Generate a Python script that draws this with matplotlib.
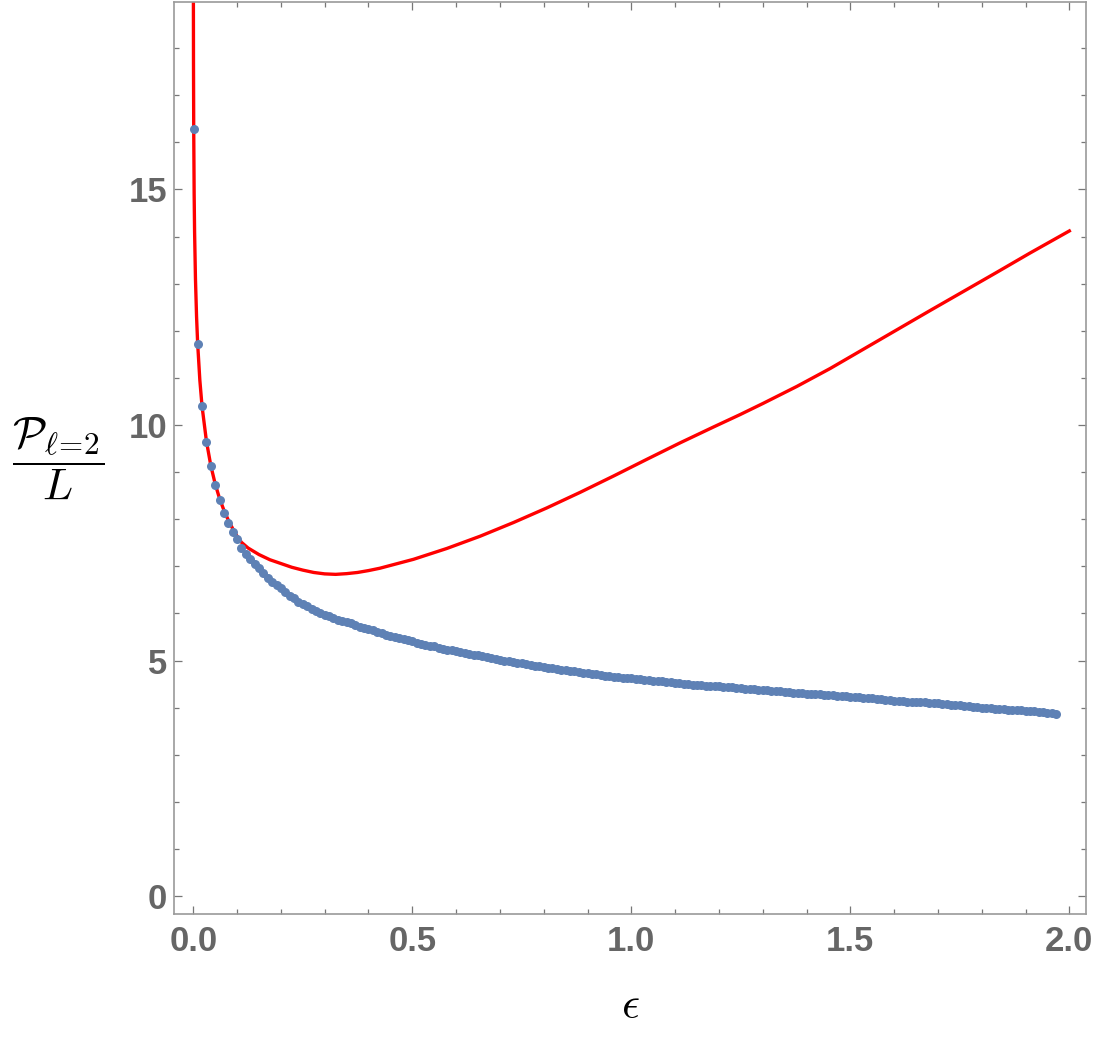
"""P_{l=2}/L vs epsilon: numerical points (blue) against the analytic curve (red)."""
import matplotlib
matplotlib.use('Agg')
import matplotlib.pyplot as plt
from matplotlib.ticker import MultipleLocator

# blue points, one every 0.01 in epsilon (first one close to zero)
NUM_EPS = [0.001] + [round(0.01 * k, 2) for k in range(1, 198)]
NUM_VAL = [
    16.28,
    11.73, 10.40, 9.65, 9.12, 8.72, 8.41, 8.14, 7.93, 7.73, 7.57,
    7.39, 7.26, 7.15, 7.05, 6.96, 6.86, 6.76, 6.67, 6.60, 6.53,
    6.45, 6.38, 6.32, 6.25, 6.20, 6.15, 6.10, 6.05, 6.00, 5.97,
    5.94, 5.90, 5.87, 5.84, 5.81, 5.79, 5.75, 5.72, 5.69, 5.66,
    5.64, 5.61, 5.58, 5.55, 5.52, 5.50, 5.47, 5.45, 5.43, 5.41,
    5.38, 5.36, 5.34, 5.31, 5.30, 5.27, 5.25, 5.23, 5.22, 5.20,
    5.18, 5.16, 5.14, 5.12, 5.11, 5.09, 5.07, 5.05, 5.04, 5.02,
    5.00, 4.99, 4.97, 4.95, 4.94, 4.92, 4.91, 4.89, 4.88, 4.86,
    4.85, 4.84, 4.82, 4.81, 4.80, 4.78, 4.77, 4.76, 4.74, 4.73,
    4.72, 4.71, 4.69, 4.68, 4.67, 4.66, 4.65, 4.64, 4.63, 4.62,
    4.61, 4.60, 4.59, 4.58, 4.57, 4.56, 4.56, 4.55, 4.54, 4.53,
    4.52, 4.51, 4.50, 4.49, 4.49, 4.48, 4.47, 4.46, 4.46, 4.45,
    4.44, 4.43, 4.43, 4.42, 4.41, 4.40, 4.40, 4.39, 4.38, 4.37,
    4.37, 4.36, 4.35, 4.35, 4.34, 4.33, 4.32, 4.31, 4.31, 4.30,
    4.29, 4.29, 4.28, 4.27, 4.27, 4.26, 4.25, 4.25, 4.24, 4.23,
    4.23, 4.22, 4.21, 4.21, 4.20, 4.19, 4.18, 4.17, 4.16, 4.15,
    4.14, 4.14, 4.13, 4.13, 4.12, 4.11, 4.11, 4.10, 4.09, 4.09,
    4.08, 4.07, 4.06, 4.06, 4.05, 4.04, 4.03, 4.02, 4.01, 4.00,
    4.00, 3.99, 3.98, 3.98, 3.97, 3.96, 3.96, 3.95, 3.94, 3.93,
    3.92, 3.92, 3.91, 3.90, 3.89, 3.88, 3.86,
]

# red curve
CURVE_EPS = [0.0002, 0.0005, 0.001, 0.002, 0.003, 0.005, 0.0075, 0.01, 0.015,
             0.02, 0.03, 0.04, 0.05, 0.06, 0.07, 0.08, 0.09, 0.10, 0.11,
             0.125, 0.15, 0.175, 0.20, 0.225, 0.25, 0.275, 0.30, 0.325,
             0.35, 0.375, 0.40, 0.426, 0.503, 0.579, 0.655, 0.731, 0.807,
             0.883, 0.960, 1.035, 1.111, 1.188, 1.248, 1.301, 1.378, 1.454,
             1.530, 1.606, 1.682, 1.759, 1.834, 1.910, 2.000]
CURVE_VAL = [19.5, 17.7, 16.3, 14.9, 14.1, 13.1, 12.3, 11.73, 10.95,
             10.40, 9.66, 9.14, 8.75, 8.44, 8.19, 7.98, 7.80, 7.64, 7.51,
             7.39, 7.25, 7.14, 7.06, 6.98, 6.92, 6.87, 6.84, 6.83,
             6.845, 6.87, 6.91, 6.96, 7.15, 7.38, 7.64, 7.93, 8.24,
             8.57, 8.92, 9.27, 9.62, 9.96, 10.22, 10.46, 10.82, 11.20,
             11.61, 12.02, 12.43, 12.84, 13.24, 13.65, 14.12]

BLUE = '#5e81b5'
FRAME = '#9a9a9a'
TICKTXT = '#666666'


def main():
    plt.rcParams['mathtext.fontset'] = 'cm'
    fig = plt.figure(figsize=(10.98, 10.42), dpi=100)
    ax = fig.add_axes([174 / 1098, 128 / 1042, 912 / 1098, 912 / 1042])

    ax.plot(CURVE_EPS, CURVE_VAL, color='#ff0000', lw=2.4, zorder=2,
            solid_joinstyle='round')
    ax.plot(NUM_EPS, NUM_VAL, 'o', color=BLUE, ms=6.5, mec='none', zorder=3)

    ax.set_xlim(-0.044, 2.038)
    ax.set_ylim(-0.38, 18.98)

    ax.xaxis.set_major_locator(MultipleLocator(0.5))
    ax.xaxis.set_minor_locator(MultipleLocator(0.1))
    ax.yaxis.set_major_locator(MultipleLocator(5))
    ax.yaxis.set_minor_locator(MultipleLocator(1))
    ax.xaxis.set_major_formatter(plt.FuncFormatter(lambda v, p: f'{v:.1f}'))
    ax.yaxis.set_major_formatter(plt.FuncFormatter(lambda v, p: f'{v:.0f}'))

    for s in ax.spines.values():
        s.set_color(FRAME)
        s.set_linewidth(1.2)
    ax.tick_params(which='both', direction='in', top=True, right=True,
                   color='#777777', width=0.9)
    ax.tick_params(which='major', length=6)
    ax.tick_params(which='minor', length=3.4)
    ax.tick_params(axis='x', which='major', pad=8)
    ax.tick_params(axis='y', which='major', pad=5)
    for lab in ax.get_xticklabels() + ax.get_yticklabels():
        lab.set_fontfamily('Liberation Sans')
        lab.set_fontweight('bold')
        lab.set_fontsize(25)
        lab.set_color(TICKTXT)

    fig.text(58 / 1098, 1 - 458 / 1042,
             r'$\dfrac{\mathcal{P}_{\ell\!=\!2}}{L}$',
             fontsize=32, ha='center', va='center')
    fig.text(630 / 1098, 1 - 1005 / 1042, r'$\epsilon$',
             fontsize=32, ha='center', va='center')

    fig.savefig('out.png', dpi=100)
    plt.close(fig)


if __name__ == '__main__':
    main()
